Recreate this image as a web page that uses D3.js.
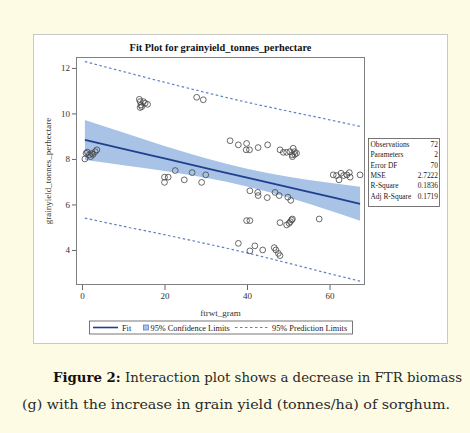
<!DOCTYPE html>
<html><head><meta charset="utf-8">
<script src="https://cdn.jsdelivr.net/npm/d3@7"></script>
<style>
html,body{margin:0;padding:0;background:#fdfbe3;}
svg{display:block;}
</style></head>
<body>
<svg id="chart" width="470" height="433"></svg>
<script>
// ---- data ----
const ftrwt = [0.7,1.0,1.3,1.8,2.1,2.4,2.7,3.2,3.6,
  13.9,14.1,14.3,14.5,14.1,14.9,15.3,15.9,
  27.8,29.4,
  20.0,20.0,20.9,22.6,24.8,26.7,29.0,30.0,
  35.9,37.9,39.9,39.8,40.6,42.7,45.0,48.0,48.8,49.6,50.4,51.2,51.5,51.0,51.6,52.0,51.0,
  60.9,61.7,62.3,62.8,63.4,64.2,64.8,65.0,67.4,
  40.7,42.6,42.7,44.9,46.8,47.8,49.9,50.6,
  39.9,40.7,48.0,49.6,50.2,50.5,50.8,51.0,57.5,
  37.9,40.7,41.9,43.8,46.6,47.0,47.6,48.0];
const grainyield = [8.0,8.25,8.3,8.18,8.1,8.24,8.2,8.32,8.4,
  10.62,10.52,10.37,10.3,10.26,10.52,10.45,10.4,
  10.71,10.6,
  7.2,6.97,7.2,7.49,7.08,7.4,6.97,7.3,
  8.8,8.62,8.68,8.4,8.4,8.5,8.62,8.4,8.29,8.29,8.32,8.47,8.32,8.18,8.2,8.25,8.1,
  7.3,7.27,7.08,7.37,7.27,7.3,7.4,7.2,7.3,
  6.6,6.53,6.39,6.3,6.53,6.39,6.32,6.18,
  5.29,5.29,5.2,5.1,5.17,5.24,5.32,5.36,5.36,
  4.29,3.96,4.18,4.0,4.1,4.0,3.85,3.75];
const curveX    = [0.7, 10, 20, 30, 40, 50, 60, 67.4];
const fitY      = [8.84, 8.44, 8.02, 7.60, 7.18, 6.76, 6.34, 6.03];
const ciUpper   = [9.71, 9.16, 8.57, 8.03, 7.57, 7.22, 6.95, 6.78];
const ciLower   = [7.95, 7.72, 7.47, 7.17, 6.79, 6.30, 5.73, 5.28];
const predUpper = [12.28, 11.84, 11.37, 10.92, 10.49, 10.10, 9.72, 9.43];
const predLower = [5.40, 5.04, 4.67, 4.28, 3.87, 3.42, 2.96, 2.63];
const xTicks = [0, 20, 40, 60];
const yTicks = [4, 6, 8, 10, 12];
const statLabels = ["Observations","Parameters","Error DF","MSE","R-Square","Adj R-Square"];
const statValues = ["72","2","70","2.7222","0.1836","0.1719"];
const legendLabels = ["Fit","95% Confidence Limits","95% Prediction Limits"];
const titleText = "Fit Plot for grainyield_tonnes_perhectare";
const xLabel = "ftrwt_gram";
const yLabel = "grainyield_tonnes_perhectare";

// ---- drawing ----
const svg = d3.select("#chart");
const serif = "'Liberation Serif','Times New Roman',serif";
const L = 76, R = 365, T = 57, B = 285;
const x = d3.scaleLinear().domain([-1.45, 68.6]).range([L, R]);
const y = d3.scaleLinear().domain([2.46, 12.48]).range([B, T]);

// white panel
svg.append("rect").attr("x",33.5).attr("y",34.5).attr("width",414).attr("height",309)
  .attr("fill","#fff").attr("stroke","#c9c9c9").attr("stroke-width",1);

// title
svg.append("text").attr("x",(L+R)/2).attr("y",50.5).attr("text-anchor","middle")
  .attr("font-family",serif).attr("font-weight","bold").attr("font-size",10.3).attr("fill","#111")
  .text(titleText);

const clipId = "plotclip";
svg.append("clipPath").attr("id",clipId).append("rect").attr("x",L).attr("y",T).attr("width",R-L).attr("height",B-T);
const g = svg.append("g").attr("clip-path",`url(#${clipId})`);

const idx = d3.range(curveX.length);
// confidence band
g.append("path").datum(idx)
  .attr("d", d3.area().x(i=>x(curveX[i])).y0(i=>y(ciLower[i])).y1(i=>y(ciUpper[i])).curve(d3.curveMonotoneX))
  .attr("fill","#a9c3e7");
// prediction limits
[predUpper, predLower].forEach(arr=>{
  g.append("path").datum(idx)
    .attr("d", d3.line().x(i=>x(curveX[i])).y(i=>y(arr[i])).curve(d3.curveMonotoneX))
    .attr("fill","none").attr("stroke","#5f7fc4").attr("stroke-width",1.2).attr("stroke-dasharray","2.5,2.5");
});
// fit line
g.append("path").datum(idx)
  .attr("d", d3.line().x(i=>x(curveX[i])).y(i=>y(fitY[i])).curve(d3.curveMonotoneX))
  .attr("fill","none").attr("stroke","#203f8c").attr("stroke-width",1.8);
// points
g.selectAll("circle.pt").data(ftrwt.map((v,i)=>[v,grainyield[i]])).join("circle")
  .attr("class","pt").attr("cx",d=>x(d[0])).attr("cy",d=>y(d[1])).attr("r",2.9)
  .attr("fill","none").attr("stroke","#444").attr("stroke-width",0.8);

// frame
svg.append("rect").attr("x",L+0.5).attr("y",T+0.5).attr("width",R-L-1).attr("height",B-T-1)
  .attr("fill","none").attr("stroke","#808080").attr("stroke-width",1);

// axes
const ya = svg.append("g").attr("transform",`translate(${L},0)`)
  .call(d3.axisLeft(y).tickValues(yTicks).tickSize(4).tickPadding(2).tickFormat(d3.format("d")));
const xa = svg.append("g").attr("transform",`translate(0,${B})`)
  .call(d3.axisBottom(x).tickValues(xTicks).tickSize(5).tickPadding(3).tickFormat(d3.format("d")));
[ya,xa].forEach(a=>{
  a.select(".domain").remove();
  a.selectAll("line").attr("stroke","#666");
  a.selectAll("text").attr("font-family",serif).attr("font-size",9).attr("fill","#333");
});

// axis labels
svg.append("text").attr("x",(L+R)/2).attr("y",316).attr("text-anchor","middle")
  .attr("font-family",serif).attr("font-size",9).attr("fill","#333").text(xLabel);
svg.append("text").attr("transform",`translate(51,${(T+B)/2}) rotate(-90)`).attr("text-anchor","middle")
  .attr("font-family",serif).attr("font-size",9).attr("fill","#333").text(yLabel);

// stats box
const sb = svg.append("g");
sb.append("rect").attr("x",368.5).attr("y",138.5).attr("width",71).attr("height",68)
  .attr("fill","#fff").attr("stroke","#555").attr("stroke-width",0.8);
statLabels.forEach((s,i)=>{
  const yy = 147 + i*10.3;
  sb.append("text").attr("x",370.5).attr("y",yy).attr("font-family",serif).attr("font-size",7.4)
    .attr("fill","#222").text(s);
  sb.append("text").attr("x",438).attr("y",yy).attr("text-anchor","end").attr("font-family",serif)
    .attr("font-size",7.4).attr("fill","#222").text(statValues[i]);
});

// legend
const lg = svg.append("g");
const ly = 327.5;
const lfs = 8.3;
lg.append("rect").attr("x",89.5).attr("y",ly-6.5).attr("width",263).attr("height",13)
  .attr("fill","#fff").attr("stroke","#555").attr("stroke-width",0.8);
lg.append("line").attr("x1",93).attr("x2",118).attr("y1",ly).attr("y2",ly).attr("stroke","#203f8c").attr("stroke-width",1.6);
lg.append("text").attr("x",122).attr("y",ly+3).attr("font-family",serif).attr("font-size",lfs).attr("fill","#222").text(legendLabels[0]);
lg.append("rect").attr("x",143.5).attr("y",ly-2.5).attr("width",5).attr("height",5).attr("fill","#a9c3e7").attr("stroke","#5f7fc4").attr("stroke-width",0.8);
lg.append("text").attr("x",150.5).attr("y",ly+3).attr("font-family",serif).attr("font-size",lfs).attr("fill","#222").text(legendLabels[1]);
lg.append("line").attr("x1",235).attr("x2",268).attr("y1",ly).attr("y2",ly).attr("stroke","#5f7fc4").attr("stroke-width",1).attr("stroke-dasharray","2.5,2.5");
lg.append("text").attr("x",272).attr("y",ly+3).attr("font-family",serif).attr("font-size",lfs).attr("fill","#222").text(legendLabels[2]);

// caption
const cap = svg.append("g").attr("font-family","'DejaVu Serif',serif").attr("font-size",13).attr("fill","#2a2a2a");
const t1 = cap.append("text").attr("x",53).attr("y",382).attr("textLength",409).attr("lengthAdjust","spacingAndGlyphs");
t1.append("tspan").attr("font-weight","bold").attr("fill","#111").text("Figure 2:");
t1.append("tspan").text(" Interaction plot shows a decrease in FTR biomass");
cap.append("text").attr("x",22).attr("y",409).attr("textLength",428).attr("lengthAdjust","spacingAndGlyphs")
  .text("(g) with the increase in grain yield (tonnes/ha) of sorghum.");
</script>
</body></html>
